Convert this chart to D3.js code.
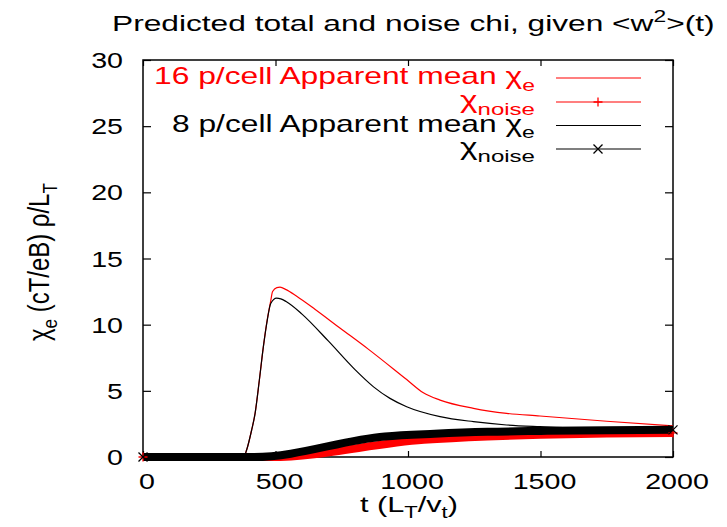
<!DOCTYPE html>
<html><head><meta charset="utf-8">
<script src="https://cdn.jsdelivr.net/npm/d3@7"></script>
<style>body{margin:0;background:#fff}svg{display:block}text{font-family:"Liberation Sans",Arial,sans-serif}</style>
</head><body><svg id="c" width="727" height="527"></svg>
<script>
// ---- data ----
const xTicks = [0, 500, 1000, 1500, 2000];
const yTicks = [0, 5, 10, 15, 20, 25, 30];
const tTotal16 = [0, 380, 391, 410, 423, 439, 454, 469, 482, 489, 505, 517, 540, 580, 650, 743, 850, 995, 1058, 1121, 1247, 1372, 1498, 1750, 2000];
const chiTotal16 = [0, 0, 0.53, 2.04, 3.3, 5.8, 8.3, 10.4, 11.8, 12.5, 12.8, 12.83, 12.65, 12.15, 11.15, 9.75, 8.15, 5.85, 4.85, 4.3, 3.68, 3.3, 3.1, 2.7, 2.35];
const tTotal8 = [0, 380, 391, 410, 423, 439, 454, 469, 482, 504, 520, 540, 600, 700, 800, 870, 932, 995, 1121, 1247, 1372, 1498, 1700, 2000];
const chiTotal8 = [0, 0, 0.53, 2.04, 3.3, 5.8, 8.3, 10.35, 11.6, 12.0, 11.95, 11.75, 10.8, 8.75, 6.6, 5.3, 4.43, 3.8, 3.05, 2.67, 2.42, 2.29, 2.15, 2.1];
const tNoise16 = [0, 480, 1060, 1300, 1500, 1750, 2000];
const chiNoise16 = [0, 0, 1.3, 1.55, 1.68, 1.77, 1.82];
const tNoise8 = [0, 420, 913, 1100, 1300, 1500, 1750, 2000];
const chiNoise8 = [0, 0, 1.55, 1.75, 1.9, 1.97, 2.03, 2.05];
const legendLabels = ["16 p/cell Apparent mean χ|e", "χ|noise", "8 p/cell Apparent mean χ|e", "χ|noise"];
const seriesColors = ["#ff0000", "#ff0000", "#000000", "#000000"];

// ---- layout ----
const svg = d3.select("#c");
const L = 143, R = 673, T = 60, B = 457;
const SX = 1.3; // horizontal glyph stretch seen in the picture
const x = d3.scaleLinear().domain([0, 2000]).range([L, R]);
const y = d3.scaleLinear().domain([0, 30]).range([B, T]);

// text helper: o.fit=[x0,x1] stretches horizontally to that span; otherwise uses SX and anchor
function stext(g, px, py, anchor, size, parts, color, o) {
  o = o || {};
  const gg = g.append("g");
  const t = gg.append("text").attr("font-size", size).attr("fill", color || "#000");
  parts.forEach(p => {
    const ts = t.append("tspan").text(p.t);
    if (p.sub) ts.attr("font-size", size * 0.72).attr("dy", size * 0.28);
    if (p.sup) ts.attr("font-size", size * 0.72).attr("dy", -size * 0.4);
    if (p.back) ts.attr("dy", p.back);
  });
  const w = t.node().getComputedTextLength();
  if (o.rot) {
    t.attr("x", -w / 2);
    gg.attr("transform", `translate(${px},${py}) rotate(${o.rot}) scale(${o.len / w},${SX})`);
  } else if (o.fit) {
    const sx = (o.fit[1] - o.fit[0]) / w;
    gg.attr("transform", `translate(${o.fit[0]},${py}) scale(${sx},1)`);
  } else {
    t.attr("x", anchor === "middle" ? -w / 2 : anchor === "end" ? -w : 0);
    gg.attr("transform", `translate(${px},${py}) scale(${SX},1)`);
  }
  return gg;
}

// axes (gnuplot style: ticks inward, mirrored)
const ax = svg.append("g");
ax.append("g").attr("transform", `translate(0,${B})`)
  .call(d3.axisBottom(x).tickValues(xTicks).tickSize(-6).tickFormat(""));
ax.append("g").attr("transform", `translate(0,${T})`)
  .call(d3.axisTop(x).tickValues(xTicks).tickSize(-6).tickFormat(""));
ax.append("g").attr("transform", `translate(${L},0)`)
  .call(d3.axisLeft(y).tickValues(yTicks).tickSize(-8).tickFormat(""));
ax.append("g").attr("transform", `translate(${R},0)`)
  .call(d3.axisRight(y).tickValues(yTicks).tickSize(-8).tickFormat(""));
ax.selectAll(".domain").remove();
ax.selectAll(".tick line").attr("stroke", "#000").attr("stroke-width", 1.2);
ax.append("rect").attr("x", L).attr("y", T).attr("width", R - L).attr("height", B - T)
  .attr("fill", "none").attr("stroke", "#000").attr("stroke-width", 1.5);

// tick labels
xTicks.forEach(v => stext(svg, x(v) + 4, 489, "middle", 22, [{t: String(v)}]));
yTicks.forEach(v => stext(svg, 123, y(v) + 8, "end", 22, [{t: String(v)}]));

// titles
stext(svg, 0, 31, "start", 22, [{t: "Predicted total and noise chi, given <w"}, {t: "2", sup: true}, {t: ">(t)", back: 22 * 0.4}], "#000", {fit: [112, 715]});
stext(svg, 0, 512, "start", 22, [{t: "t (L"}, {t: "T", sub: true}, {t: "/v", back: -22 * 0.28}, {t: "t", sub: true}, {t: ")", back: -22 * 0.28}], "#000", {fit: [360, 458]});
stext(svg, 49, 262, "middle", 22, [{t: "χ"}, {t: "e", sub: true}, {t: " (cT/eB) ρ/L", back: -22 * 0.28}, {t: "T", sub: true}], "#000", {rot: -90, len: 158});

// curves
const line = (ts, vs, curve) => d3.line().x(i => x(ts[i])).y(i => y(vs[i])).curve(curve)(d3.range(ts.length));
const plot = svg.append("g");
plot.append("path").attr("d", line(tTotal16, chiTotal16, d3.curveMonotoneX))
  .attr("fill", "none").attr("stroke", seriesColors[0]).attr("stroke-width", 1.2);
plot.append("path").attr("d", line(tNoise16, chiNoise16, d3.curveMonotoneX))
  .attr("fill", "none").attr("stroke", seriesColors[1]).attr("stroke-width", 8);
plot.append("path").attr("d", line(tTotal8, chiTotal8, d3.curveMonotoneX))
  .attr("fill", "none").attr("stroke", seriesColors[2]).attr("stroke-width", 1.2);
plot.append("path").attr("d", line(tNoise8, chiNoise8, d3.curveMonotoneX))
  .attr("fill", "none").attr("stroke", seriesColors[3]).attr("stroke-width", 8);

function marker(g, cx, cy, kind, color) {
  const s = 4.5;
  const d = kind === "plus" ? `M${cx - s},${cy}H${cx + s}M${cx},${cy - s}V${cy + s}`
                            : `M${cx - s},${cy - s}L${cx + s},${cy + s}M${cx - s},${cy + s}L${cx + s},${cy - s}`;
  g.append("path").attr("d", d).attr("stroke", color).attr("stroke-width", 1.3).attr("fill", "none");
}
[[tNoise16, chiNoise16, "plus", seriesColors[1]], [tNoise8, chiNoise8, "cross", seriesColors[3]]].forEach(([ts, vs, k, c]) => {
  [0, ts.length - 1].forEach(i => marker(plot, x(ts[i]), y(vs[i]), k, c));
});

// legend
const legY = [78, 102, 125.5, 149];
const legStart = [154, 460, 172, 460];
const kinds = [null, "plus", null, "cross"];
legendLabels.forEach((lab, i) => {
  const [main, sub] = lab.split("|");
  stext(svg, 0, legY[i] + 6, "start", 24, [{t: main}, {t: sub, sub: true}], seriesColors[i], {fit: [legStart[i], 535]});
  svg.append("line").attr("x1", 556).attr("x2", 641).attr("y1", legY[i]).attr("y2", legY[i])
    .attr("stroke", seriesColors[i]).attr("stroke-width", 1.2);
  if (kinds[i]) marker(svg, 598, legY[i], kinds[i], seriesColors[i]);
});
</script></body></html>
